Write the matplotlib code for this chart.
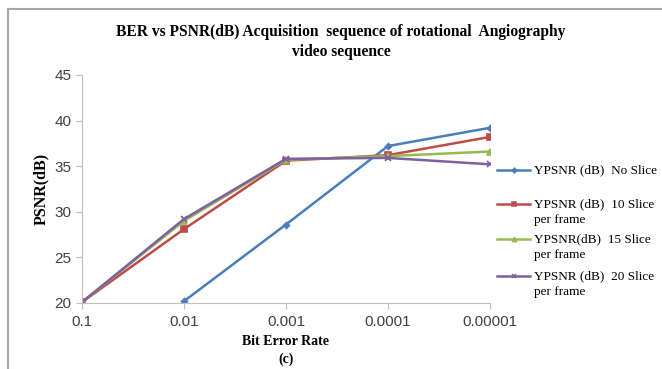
import matplotlib.pyplot as plt
from matplotlib.lines import Line2D

ber_labels = ["0.1", "0.01", "0.001", "0.0001", "0.00001"]
no_slice = [None, 20.2, 28.6, 37.2, 39.2]
slice_10 = [20.1, 28.1, 35.6, 36.2, 38.2]
slice_15 = [20.1, 29.0, 35.7, 36.1, 36.6]
slice_20 = [20.1, 29.2, 35.8, 35.9, 35.2]

series = [
    ("YPSNR (dB)  No Slice", no_slice, "#4a7ebb", "D", 3),
    ("YPSNR (dB)  10 Slice\nper frame", slice_10, "#be4b48", "s", 4),
    ("YPSNR(dB)  15 Slice\nper frame", slice_15, "#98b954", "^", 4),
    ("YPSNR (dB)  20 Slice\nper frame", slice_20, "#7d60a0", "x", 4),
]

W, H = 662, 369
fig = plt.figure(figsize=(W / 100, H / 100), dpi=100)
ax = fig.add_axes([0.124, 0.179, 0.616, 0.618])

x = list(range(len(ber_labels)))
for label, vals, color, marker, ms in series:
    xs = [i for i, v in zip(x, vals) if v is not None]
    ys = [v for v in vals if v is not None]
    ax.plot(xs, ys, color=color, lw=1.8, marker=marker, ms=ms,
            markeredgewidth=1.2, label=label)

ax.set_xlim(0, 4)
ax.set_ylim(20, 45)
ax.set_yticks([20, 25, 30, 35, 40, 45])
ax.set_xticks(x)
ax.set_xticklabels(ber_labels)
for s in ["top", "right"]:
    ax.spines[s].set_visible(False)
for s in ["left", "bottom"]:
    ax.spines[s].set_color("#bfbfbf")
ax.tick_params(colors="#bfbfbf", labelcolor="#404040", labelsize=11, length=4)
ax.tick_params(axis="x", pad=5)
for t in ax.get_xticklabels() + ax.get_yticklabels():
    t.set_family("Liberation Sans")

ax.set_ylabel("PSNR(dB)", fontfamily="Liberation Serif", fontweight="bold",
              fontsize=11.5, labelpad=4)
ax.set_xlabel("Bit Error Rate\n(c)", fontfamily="Liberation Serif",
              fontweight="bold", fontsize=10, labelpad=4, linespacing=1.45)

fig.text(0.515, 1 - 42 / H, "BER vs PSNR(dB) Acquisition  sequence of rotational  Angiography\nvideo sequence",
         ha="center", va="center", fontfamily="Liberation Serif",
         fontweight="bold", fontsize=11.2, linespacing=1.3)

# legend drawn by hand so the handle sits on the first text line
leg_y = [170, 204, 239, 276]
for (label, _, color, marker, ms), yp in zip(series, leg_y):
    fy = 1 - yp / H
    fig.add_artist(Line2D([497 / W, 530 / W], [fy, fy], color=color, lw=1.8))
    fig.add_artist(Line2D([513.5 / W], [fy], color=color, marker=marker,
                          ms=ms * 0.8, markeredgewidth=1.1, lw=0))
    fig.text(534 / W, fy + 6 / H, label, ha="left", va="top",
             fontfamily="Liberation Serif", fontsize=9.5, linespacing=1.4)

# outer chart frame (left and top edges)
fig.add_artist(Line2D([0.012, 0.012], [0, 0.975], color="#a6a6a6", lw=1.5))
fig.add_artist(Line2D([0.012, 1.0], [0.975, 0.975], color="#a6a6a6", lw=1.5))

plt.savefig("out.png", dpi=100)
